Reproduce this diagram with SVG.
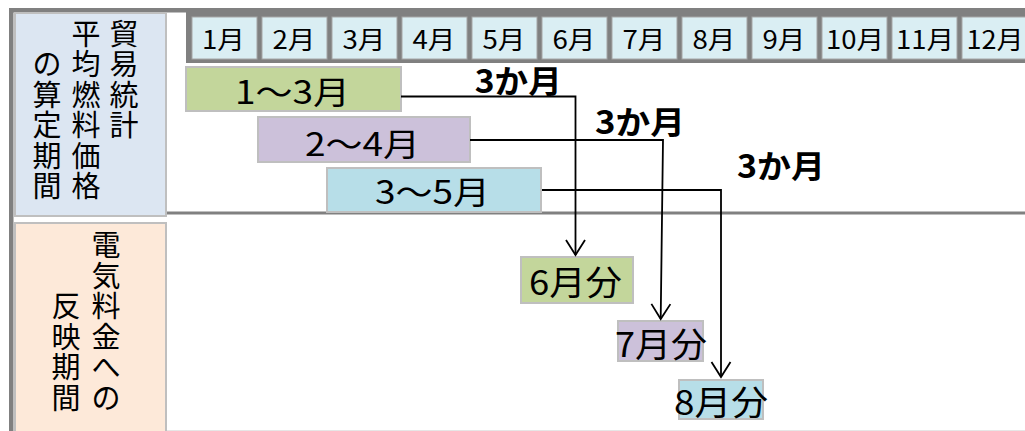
<svg xmlns="http://www.w3.org/2000/svg" width="1025" height="431" viewBox="0 0 1025 431">
<defs>
<style>
text{font-family:"Noto Sans CJK JP","Noto Sans CJK SC",sans-serif;fill:#000;}
.mon{font-size:25px;text-anchor:middle;}
.cell{fill:#DAEEF3;stroke:#A6A6A6;stroke-width:1;}
.bar{stroke:#BFBFBF;stroke-width:2;}
.bt{font-size:32px;text-anchor:middle;}
.rt{font-size:34px;text-anchor:middle;}
.lab{font-size:32px;font-weight:bold;text-anchor:middle;}
.vt{font-size:29px;text-anchor:middle;}
.green{fill:#C3D69B;}
.purple{fill:#CCC1DA;}
.blue{fill:#B7DEE8;}
.conn{fill:none;stroke:#000;stroke-width:1.8;}
</style>
<marker id="arr" markerUnits="userSpaceOnUse" markerWidth="24" markerHeight="24" viewBox="-18 -12 20 24" refX="0" refY="0" orient="auto">
<path d="M-15,-9.5 L0,0 L-15,9.5" fill="none" stroke="#000" stroke-width="1.8"/>
</marker>
</defs>
<rect width="1025" height="431" fill="#fff"/>

<g id="frame">
<rect x="9" y="8" width="1016" height="4.5" fill="#808080"/>
<rect x="9" y="8" width="4.5" height="423" fill="#808080"/>
<rect x="186" y="8" width="839" height="55" fill="#808080"/>
<line x1="167" y1="213" x2="1025" y2="213" stroke="#808080" stroke-width="3"/>
<line x1="167" y1="430.5" x2="1025" y2="430.5" stroke="#E6E6E6" stroke-width="1"/>
</g>

<g id="label-top">
<rect x="15" y="13" width="151" height="203" fill="#DCE6F2" stroke="#BFBFBF" stroke-width="2"/>
<text class="vt"><tspan x="124" y="44.5">貿</tspan><tspan x="124" y="75">易</tspan><tspan x="124" y="105.5">統</tspan><tspan x="124" y="136">計</tspan></text>
<text class="vt"><tspan x="86" y="44.5">平</tspan><tspan x="86" y="75">均</tspan><tspan x="86" y="105.5">燃</tspan><tspan x="86" y="136">料</tspan><tspan x="86" y="166.5">価</tspan><tspan x="86" y="197">格</tspan></text>
<text class="vt"><tspan x="47" y="75">の</tspan><tspan x="47" y="105.5">算</tspan><tspan x="47" y="136">定</tspan><tspan x="47" y="166.5">期</tspan><tspan x="47" y="197">間</tspan></text>
</g>

<g id="label-bottom">
<rect x="15" y="223" width="151" height="212" fill="#FDE9D9" stroke="#BFBFBF" stroke-width="2"/>
<text class="vt"><tspan x="106" y="256">電</tspan><tspan x="106" y="286.5">気</tspan><tspan x="106" y="317">料</tspan><tspan x="106" y="347.5">金</tspan><tspan x="106" y="378">へ</tspan><tspan x="106" y="408.5">の</tspan></text>
<text class="vt"><tspan x="66" y="317">反</tspan><tspan x="66" y="347.5">映</tspan><tspan x="66" y="378">期</tspan><tspan x="66" y="408.5">間</tspan></text>
</g>

<g id="months">
<g id="m1"><rect class="cell" x="192" y="17" width="65" height="42"/><text class="mon" x="223.5" y="48.5" textLength="43" lengthAdjust="spacingAndGlyphs">1月</text></g>
<g id="m2"><rect class="cell" x="262" y="17" width="65" height="42"/><text class="mon" x="294" y="48.5" textLength="43" lengthAdjust="spacingAndGlyphs">2月</text></g>
<g id="m3"><rect class="cell" x="332" y="17" width="65" height="42"/><text class="mon" x="364" y="48.5" textLength="43" lengthAdjust="spacingAndGlyphs">3月</text></g>
<g id="m4"><rect class="cell" x="402" y="17" width="65" height="42"/><text class="mon" x="434" y="48.5" textLength="43" lengthAdjust="spacingAndGlyphs">4月</text></g>
<g id="m5"><rect class="cell" x="472" y="17" width="65" height="42"/><text class="mon" x="504" y="48.5" textLength="43" lengthAdjust="spacingAndGlyphs">5月</text></g>
<g id="m6"><rect class="cell" x="542" y="17" width="65" height="42"/><text class="mon" x="574" y="48.5" textLength="43" lengthAdjust="spacingAndGlyphs">6月</text></g>
<g id="m7"><rect class="cell" x="612" y="17" width="65" height="42"/><text class="mon" x="644" y="48.5" textLength="43" lengthAdjust="spacingAndGlyphs">7月</text></g>
<g id="m8"><rect class="cell" x="682" y="17" width="65" height="42"/><text class="mon" x="714" y="48.5" textLength="43" lengthAdjust="spacingAndGlyphs">8月</text></g>
<g id="m9"><rect class="cell" x="752" y="17" width="65" height="42"/><text class="mon" x="784" y="48.5" textLength="43" lengthAdjust="spacingAndGlyphs">9月</text></g>
<g id="m10"><rect class="cell" x="822" y="17" width="65" height="42"/><text class="mon" x="855" y="48.5" textLength="58" lengthAdjust="spacingAndGlyphs">10月</text></g>
<g id="m11"><rect class="cell" x="892" y="17" width="65" height="42"/><text class="mon" x="925" y="48.5" textLength="58" lengthAdjust="spacingAndGlyphs">11月</text></g>
<g id="m12"><rect class="cell" x="962" y="17" width="65" height="42"/><text class="mon" x="995" y="48.5" textLength="57" lengthAdjust="spacingAndGlyphs">12月</text></g>
</g>

<g id="period1"><rect class="bar green" x="186" y="67" width="215" height="44"/><text class="bt" x="292.5" y="103.5" textLength="115" lengthAdjust="spacingAndGlyphs">1〜3月</text></g>
<g id="period2"><rect class="bar purple" x="258" y="117" width="212" height="45"/><text class="bt" x="362.5" y="155.5" textLength="115" lengthAdjust="spacingAndGlyphs">2〜4月</text></g>
<g id="period3"><rect class="bar blue" x="327" y="168" width="214" height="44"/><text class="bt" x="432.5" y="203.5" textLength="115" lengthAdjust="spacingAndGlyphs">3〜5月</text></g>

<g id="result6"><rect class="bar green" x="521" y="257" width="112" height="46"/><text class="rt" x="575.5" y="294.5" textLength="93" lengthAdjust="spacingAndGlyphs">6月分</text></g>
<g id="result7"><rect class="bar purple" x="618" y="321" width="85" height="40"/><text class="rt" x="661" y="357" textLength="92" lengthAdjust="spacingAndGlyphs">7月分</text></g>
<g id="result8"><rect class="bar blue" x="679" y="380" width="84" height="39"/><text class="rt" x="721" y="414.5" textLength="94" lengthAdjust="spacingAndGlyphs">8月分</text></g>

<g id="connectors">
<path class="conn" d="M401,96.5 H575.5 V255" marker-end="url(#arr)"/>
<path class="conn" d="M470,140 H663 L660.7,319" marker-end="url(#arr)"/>
<path class="conn" d="M542,190 H721 V377" marker-end="url(#arr)"/>
</g>

<g id="labels">
<text class="lab" x="518.3" y="92.5" textLength="87" lengthAdjust="spacingAndGlyphs">3か月</text>
<text class="lab" x="640" y="133.5" textLength="90" lengthAdjust="spacingAndGlyphs">3か月</text>
<text class="lab" x="781" y="177.5" textLength="88" lengthAdjust="spacingAndGlyphs">3か月</text>
</g>
</svg>
